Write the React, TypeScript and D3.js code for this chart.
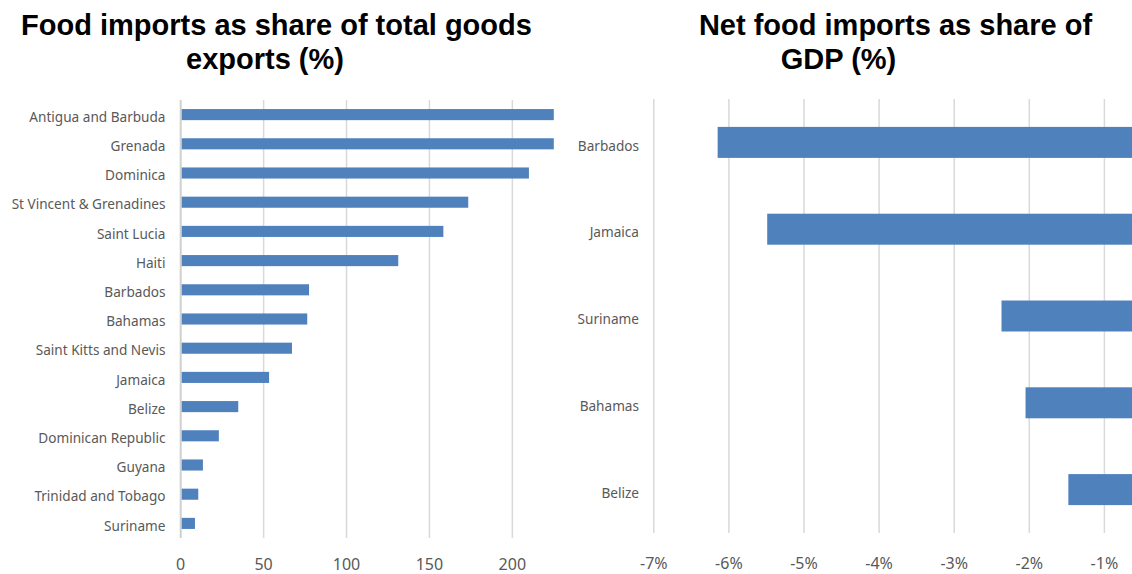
import React from "react";
import * as d3 from "d3";

const leftCategories = [
  "Antigua and Barbuda", "Grenada", "Dominica", "St Vincent & Grenadines", "Saint Lucia",
  "Haiti", "Barbados", "Bahamas", "Saint Kitts and Nevis", "Jamaica", "Belize",
  "Dominican Republic", "Guyana", "Trinidad and Tobago", "Suriname",
];
const leftValues = [225, 225, 210, 173.4, 158.4, 131.2, 77.4, 76.3, 67.1, 53.3, 34.7, 23.0, 13.4, 10.6, 8.6];
const leftTicks = [0, 50, 100, 150, 200];

const rightCategories = ["Barbados", "Jamaica", "Suriname", "Bahamas", "Belize"];
const rightValues = [-6.15, -5.49, -2.37, -2.05, -1.48];
const rightTicks = [-7, -6, -5, -4, -3, -2, -1];

const W = 1132;
const H = 574;
const BAR = "#4f81bd";
const GRID = "#d9d9d9";
const LABEL = "#595959";
const FONT = "'Noto Sans', 'Open Sans', sans-serif";
const TITLE_FONT = "'Liberation Sans', Arial, sans-serif";

export default function App() {
  // Left chart scales
  const lx = d3.scaleLinear().domain([0, 225]).range([180.7, 553.8]);
  const ly = d3.scaleBand<string>().domain(leftCategories).range([100, 538]).paddingInner(0.62).paddingOuter(0.31);

  // Right chart scales (0% lies beyond the visible edge)
  const rx = d3.scaleLinear().domain([-7, 0]).range([653.8, 1179.5]);
  const ry = d3.scaleBand<string>().domain(rightCategories).range([99, 533]).paddingInner(0.643).paddingOuter(0.3215);

  return (
    <svg
      width={W}
      height={H}
      style={{ position: "absolute", left: 0, top: 0, background: "#fff" }}
      fontFamily={FONT}
    >
      <rect x={0} y={0} width={W} height={H} fill="#fff" />

      {/* Titles */}
      <g fontFamily={TITLE_FONT} fontWeight="bold" fontSize={29} fill="#000" textAnchor="middle">
        <text x={276.5} y={35}>Food imports as share of total goods</text>
        <text x={265} y={68.5}>exports (%)</text>
        <text x={895.5} y={35}>Net food imports as share of</text>
        <text x={838.5} y={68.5}>GDP (%)</text>
      </g>

      {/* Left chart */}
      <g>
        {leftTicks.map((t) => (
          <line key={t} x1={lx(t)} x2={lx(t)} y1={100} y2={538} stroke={t === 0 ? "#d0d0d0" : GRID} strokeWidth={t === 0 ? 2 : 1.5} />
        ))}
        {leftCategories.map((c, i) => (
          <rect
            key={c}
            x={lx(0) + 1}
            y={ly(c)!}
            width={Math.max(0, lx(Math.min(leftValues[i], 225)) - lx(0) - 1)}
            height={ly.bandwidth()}
            fill={BAR}
          />
        ))}
        {leftCategories.map((c) => (
          <text
            key={c}
            x={165.5}
            y={ly(c)! + ly.bandwidth() / 2 + 2.5}
            dy="0.35em"
            textAnchor="end"
            fontSize={13.6}
            fill={LABEL}
          >
            {c}
          </text>
        ))}
        {leftTicks.map((t) => (
          <text key={t} x={lx(t)} y={569.5} textAnchor="middle" fontSize={16} fill={LABEL}>
            {t}
          </text>
        ))}
      </g>

      {/* Right chart */}
      <g>
        {rightTicks.map((t) => (
          <line key={t} x1={rx(t)} x2={rx(t)} y1={99} y2={533} stroke={GRID} strokeWidth={1.5} />
        ))}
        {rightCategories.map((c, i) => (
          <rect
            key={c}
            x={rx(rightValues[i])}
            y={ry(c)!}
            width={rx(0) - rx(rightValues[i])}
            height={ry.bandwidth()}
            fill={BAR}
          />
        ))}
        {rightCategories.map((c) => (
          <text
            key={c}
            x={639}
            y={ry(c)! + ry.bandwidth() / 2 + 3.5}
            dy="0.35em"
            textAnchor="end"
            fontSize={13.6}
            fill={LABEL}
          >
            {c}
          </text>
        ))}
        {rightTicks.map((t) => (
          <text key={t} x={rx(t)} y={569} textAnchor="middle" fontSize={16} fill={LABEL}>
            {`${t}%`}
          </text>
        ))}
      </g>
    </svg>
  );
}
